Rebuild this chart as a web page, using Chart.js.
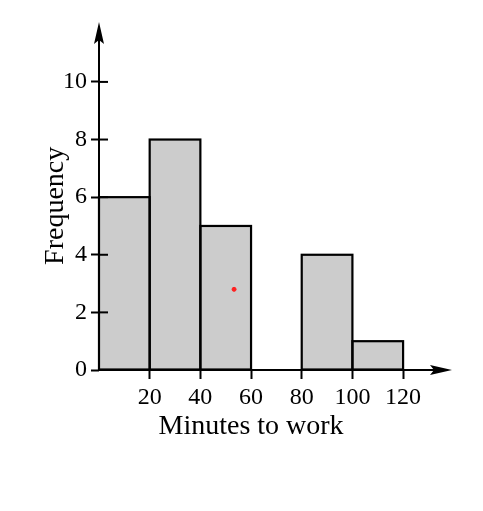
<!DOCTYPE html>
<html>
<head>
<meta charset="utf-8">
<script src="https://cdn.jsdelivr.net/npm/chart.js@4"></script>
<style>
  html, body { margin: 0; padding: 0; background: #fff; }
  #wrap { width: 483px; height: 511px; }
</style>
</head>
<body>
<div id="wrap"><canvas id="c" width="483" height="511"></canvas></div>
<script>
// Data
const binCenters = [10, 30, 50, 70, 90, 110];
const frequencies = [6, 8, 5, 0, 4, 1];
const xTickValues = [20, 40, 60, 80, 100, 120];
const yTickValues = [0, 2, 4, 6, 8, 10];
const markerPoint = [{ x: 53.3, y: 2.8 }];
const xTitle = 'Minutes to work';
const yTitle = 'Frequency';

const FONT = "'Liberation Serif', 'Times New Roman', serif";

const axisPlugin = {
  id: 'axisArrows',
  afterDatasetsDraw(chart) {
    const ctx = chart.ctx;
    const xs = chart.scales.x, ys = chart.scales.y;
    const x0 = xs.getPixelForValue(0), y0 = ys.getPixelForValue(0);
    const xEnd = xs.right, yEnd = ys.top;
    ctx.save();
    ctx.strokeStyle = '#000';
    ctx.fillStyle = '#000';
    ctx.lineWidth = 2.2;
    // bar outlines, centred on bin edges
    chart.getDatasetMeta(0).data.forEach(bar => {
      const p = bar.getProps(['x', 'y', 'base', 'width'], true);
      if (p.base - p.y > 0.5) {
        ctx.strokeRect(p.x - p.width / 2, p.y, p.width, p.base - p.y);
      }
    });
    ctx.lineWidth = 2;
    // axis lines
    ctx.beginPath();
    ctx.moveTo(x0, y0); ctx.lineTo(xEnd - 10, y0);
    ctx.moveTo(x0, y0); ctx.lineTo(x0, yEnd + 10);
    ctx.stroke();
    // inward y tick marks
    yTickValues.forEach(v => {
      const p = ys.getPixelForValue(v);
      ctx.beginPath(); ctx.moveTo(x0, p); ctx.lineTo(x0 + 9, p); ctx.stroke();
    });
    // arrowheads
    ctx.beginPath();
    ctx.moveTo(x0, yEnd);
    ctx.lineTo(x0 - 5, yEnd + 22);
    ctx.lineTo(x0, yEnd + 18);
    ctx.lineTo(x0 + 5, yEnd + 22);
    ctx.closePath(); ctx.fill();
    ctx.beginPath();
    ctx.moveTo(xEnd, y0);
    ctx.lineTo(xEnd - 22, y0 - 5);
    ctx.lineTo(xEnd - 18, y0);
    ctx.lineTo(xEnd - 22, y0 + 5);
    ctx.closePath(); ctx.fill();
    // axis titles
    ctx.font = '28px ' + FONT;
    ctx.textAlign = 'center';
    ctx.textBaseline = 'middle';
    const xt = (xs.getPixelForValue(0) + xs.getPixelForValue(xTickValues[xTickValues.length - 1])) / 2;
    ctx.fillText(xTitle, xt, y0 + 57);
    ctx.save();
    ctx.translate(56, ys.getPixelForValue(5.7));
    ctx.rotate(-Math.PI / 2);
    ctx.fillText(yTitle, 0, 0);
    ctx.restore();
    ctx.restore();
  }
};

new Chart(document.getElementById('c'), {
  type: 'bar',
  data: {
    datasets: [
      {
        type: 'bar',
        data: binCenters.map((c, i) => ({ x: c, y: frequencies[i] })),
        backgroundColor: '#cccccc',
        borderWidth: 0,
        barPercentage: 1,
        categoryPercentage: 1,
        order: 2
      },
      {
        type: 'scatter',
        data: markerPoint,
        backgroundColor: '#ff2020',
        borderColor: '#ff2020',
        pointRadius: 2,
        order: 1
      }
    ]
  },
  plugins: [axisPlugin],
  options: {
    responsive: false,
    animation: false,
    devicePixelRatio: 1,
    layout: { padding: { left: 0, top: 22, right: 31, bottom: 71 } },
    plugins: { legend: { display: false }, tooltip: { enabled: false } },
    scales: {
      x: {
        type: 'linear',
        min: 0,
        max: 139.3,
        offset: false,
        afterBuildTicks: s => { s.ticks = xTickValues.map(v => ({ value: v })); },
        afterFit: s => { s.height = 70; },
        grid: { display: true, drawOnChartArea: false, drawTicks: true, tickLength: 9, tickWidth: 2, tickColor: '#000', offset: false },
        border: { display: false },
        ticks: { color: '#000', font: { family: FONT, size: 24 }, padding: 4, maxRotation: 0, autoSkip: false },
        title: { display: false }
      },
      y: {
        type: 'linear',
        min: 0,
        max: 12.08,
        afterBuildTicks: s => { s.ticks = yTickValues.map(v => ({ value: v })); },
        afterFit: s => { s.width = 99; },
        grid: { display: true, drawOnChartArea: false, drawTicks: true, tickLength: 8, tickWidth: 2, tickColor: '#000' },
        border: { display: false },
        ticks: { color: '#000', font: { family: FONT, size: 24 }, padding: 4 },
        title: { display: false }
      }
    }
  }
});
</script>
</body>
</html>
